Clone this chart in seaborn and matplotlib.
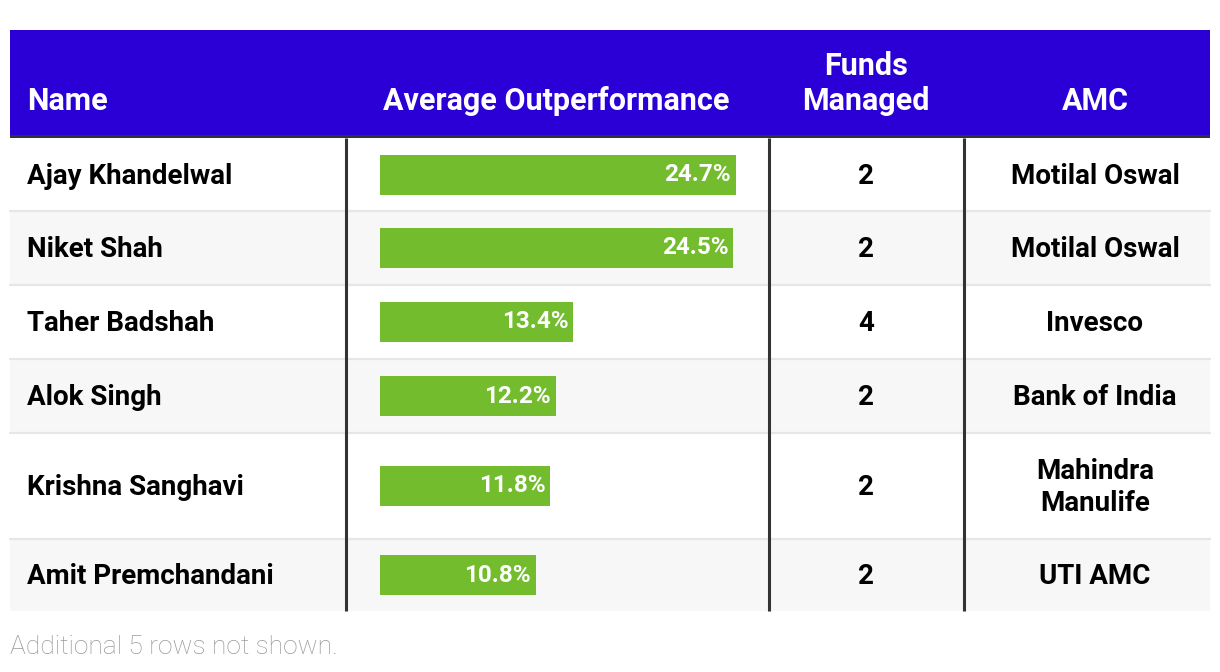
import matplotlib
matplotlib.use('Agg')
import matplotlib.pyplot as plt
import seaborn as sns
from matplotlib.patches import Rectangle

sns.set_style('white')
plt.rcParams['font.family'] = ['Roboto', 'DejaVu Sans']

names = ['Ajay Khandelwal', 'Niket Shah', 'Taher Badshah', 'Alok Singh', 'Krishna Sanghavi', 'Amit Premchandani']
outperf = [24.7, 24.5, 13.4, 12.2, 11.8, 10.8]
funds = [2, 2, 4, 2, 2, 2]
amc = ['Motilal Oswal', 'Motilal Oswal', 'Invesco', 'Bank of India', 'Mahindra\nManulife', 'UTI AMC']
headers = ['Name', 'Average Outperformance', 'Funds\nManaged', 'AMC']
footer = 'Additional 5 rows not shown.'

W, H = 1220, 672
header_col = '#2A00D6'
bar_col = '#72BC2D'
dark = '#333333'

# layout in pixels
left, right = 10, 1210
head_top, head_bot = 30, 135
row_edges = [138, 211, 285, 359, 433, 539, 611]
col_div = [346, 769, 964]
bar_x0, bar_x1 = 380, 736
bar_h = 40

fig = plt.figure(figsize=(W / 100, H / 100), dpi=100)
bg = fig.add_axes([0, 0, 1, 1])
bg.set_xlim(0, W)
bg.set_ylim(H, 0)
bg.axis('off')

# header
bg.add_patch(Rectangle((left, head_top), right - left, head_bot - head_top, color=header_col, lw=0))
bg.add_patch(Rectangle((left, head_bot), right - left, row_edges[0] - head_bot, color=dark, lw=0))
hkw = dict(color='white', fontsize=22, fontweight='bold', va='baseline', linespacing=1.2)
bg.text(27, 110, headers[0], ha='left', **hkw)
bg.text(383, 110, headers[1], ha='left', **hkw)
bg.text(866, 110, headers[2], ha='center', ma='center', **hkw)
bg.text(1095, 110, headers[3], ha='center', **hkw)

# rows
for i in range(len(names)):
    y0, y1 = row_edges[i], row_edges[i + 1]
    yc = (y0 + y1) / 2 + 1.5
    bg.add_patch(Rectangle((left, y0), right - left, y1 - y0, color='white' if i % 2 == 0 else '#F7F7F7', lw=0))
    if i > 0:
        bg.plot([left, right], [y0, y0], color='#E6E6E6', lw=1.6)
    tkw = dict(color='black', fontsize=20, fontweight='bold', va='center', linespacing=1.2)
    bg.text(27, yc, names[i], ha='left', **tkw)
    bg.text(866, yc, str(funds[i]), ha='center', **tkw)
    bg.text(1095, yc, amc[i], ha='center', ma='center', **tkw)

    ax = fig.add_axes([bar_x0 / W, 1 - y1 / H, (bar_x1 - bar_x0) / W, (y1 - y0) / H])
    sns.barplot(x=[outperf[i]], y=[names[i]], color=bar_col, saturation=1,
                width=bar_h / (y1 - y0), linewidth=0, ax=ax)
    ax.set_xlim(0, max(outperf))
    ax.axis('off')
    ax.patch.set_alpha(0)
    ax.annotate(f'{outperf[i]}%', xy=(outperf[i], 0), xytext=(-3.5, 0), textcoords='offset points',
                ha='right', va='center', color='white', fontsize=17.5, fontweight='bold')

for x in col_div:
    bg.plot([x, x], [row_edges[0], row_edges[-1]], color=dark, lw=2.2, solid_capstyle='butt')

bg.text(left, 647, footer, ha='left', va='center', color='#999999', fontsize=19, fontweight='light')

fig.savefig('out.png', dpi=100)
